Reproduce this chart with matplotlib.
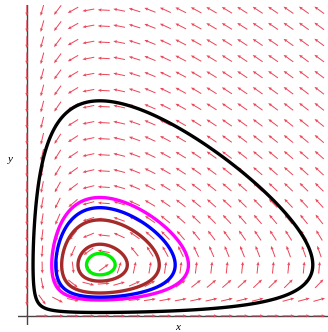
import numpy as np
import matplotlib.pyplot as plt

# Lotka-Volterra model  x' = x(a - b y),  y' = y(-c + d x)
a, b = 1.0, 1.0
c, d = 1.15, 1.15

# view window and direction-field grid (20 x 20 arrows)
x_min, x_max = -0.12, 4.12
y_min, y_max = -0.18, 6.1
n_arrows = 20
x_grid_max = 4.0
y_grid_max = 6.0

# closed orbits: level of the conserved quantity, colour
orbit_levels = [1.78, 0.48, 0.37, 0.25, 0.065, 0.022]
orbit_colors = ["black", "#ff00ff", "#0000ff", "#a52a2a", "#a52a2a", "#00ee00"]

fig = plt.figure(figsize=(3.28, 3.32), dpi=100)
ax = fig.add_axes([0.055, 0.021, 0.945, 0.964])
ax.set_xlim(x_min, x_max)
ax.set_ylim(y_min, y_max)
ax.axis("off")

# pixels per data unit, so the arrows get the same length on screen
px_x = 3.28 * 100 * 0.945 / (x_max - x_min)
px_y = 3.32 * 100 * 0.964 / (y_max - y_min)

X, Y = np.meshgrid(np.linspace(0, x_grid_max, n_arrows), np.linspace(0, y_grid_max, n_arrows))
U = X * (a - b * Y)
V = Y * (-c + d * X)
Up, Vp = U * px_x, V * px_y
norm = np.hypot(Up, Vp)
norm[norm == 0] = 1
L = 12.0
ax.quiver(X, Y, Up / norm * L / px_x, Vp / norm * L / px_y,
          angles="xy", scale_units="xy", scale=1, pivot="middle",
          color="#ec4658", width=0.0032, headwidth=3.2, headlength=3.8,
          headaxislength=3.3, zorder=2)

ax.axhline(0, color="#444444", lw=1, zorder=1)
ax.axvline(0, color="#444444", lw=1, zorder=1)

# orbits as level curves of H
xs = np.linspace(0.005, x_max, 800)
ys = np.linspace(0.005, y_max, 800)
XX, YY = np.meshgrid(xs, ys)
H = c * (XX - np.log(XX) - 1) + a * (YY - np.log(YY) - 1)
for lev, col in zip(orbit_levels, orbit_colors):
    ax.contour(XX, YY, H, levels=[lev], colors=[col], linewidths=2.4, zorder=3)

fig.text(178 / 328, 1 - 328 / 332, "x", fontsize=8, style="italic",
         family="Liberation Serif", ha="center", va="center")
fig.text(10 / 328, 1 - 160 / 332, "y", fontsize=8, style="italic",
         family="Liberation Serif", ha="center", va="center")

fig.savefig("out.png", dpi=100)
